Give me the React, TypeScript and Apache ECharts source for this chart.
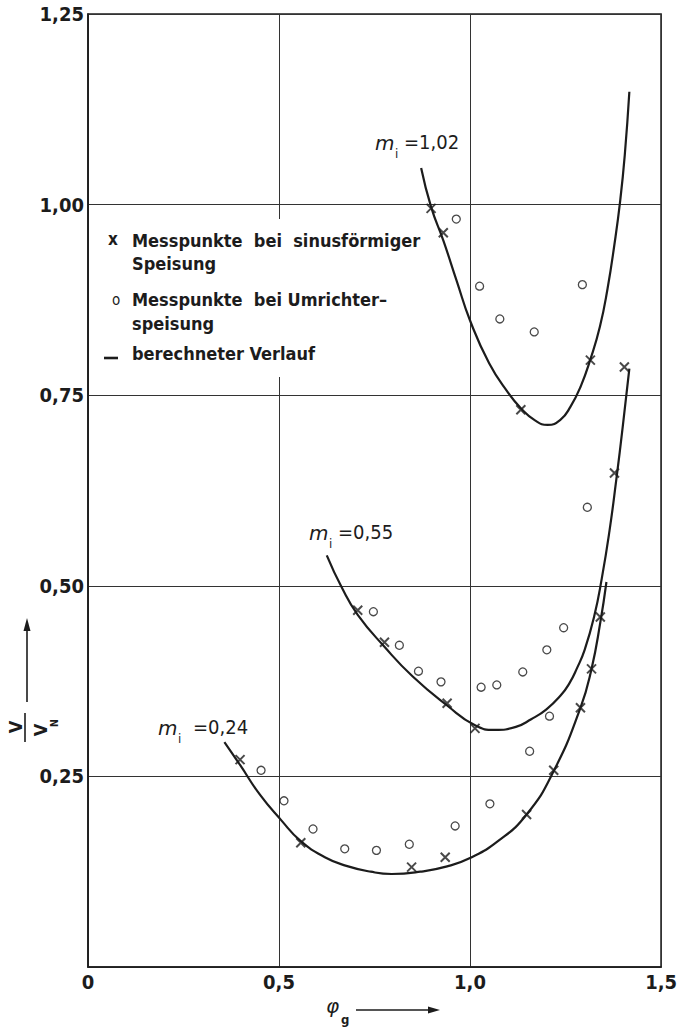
import React, { useEffect, useRef } from 'react';
import * as echarts from 'echarts';

const FONT = '"DejaVu Sans Condensed", "DejaVu Sans", sans-serif';
const INK = '#1c1c1c';

const xTicks = [0, 0.5, 1.0, 1.5];
const xTickLabels = ['0', '0,5', '1,0', '1,5'];
const yTicks = [0, 0.25, 0.5, 0.75, 1.0, 1.25];
const yTickLabels = ['', '0,25', '0,50', '0,75', '1,00', '1,25'];

// calculated curves (berechneter Verlauf)
const curve102 = [
  [0.872, 1.048], [0.898, 0.997], [0.93, 0.953], [0.965, 0.9], [1.0, 0.848],
  [1.05, 0.792], [1.1, 0.753], [1.133, 0.733], [1.17, 0.717], [1.203, 0.711],
  [1.237, 0.718], [1.263, 0.735], [1.29, 0.762], [1.315, 0.797], [1.34, 0.84],
  [1.36, 0.89], [1.378, 0.948], [1.393, 1.005], [1.405, 1.065], [1.417, 1.148],
];
const curve055 = [
  [0.625, 0.54], [0.665, 0.497], [0.706, 0.462], [0.776, 0.42], [0.85, 0.381],
  [0.94, 0.343], [1.013, 0.317], [1.065, 0.311], [1.12, 0.315], [1.16, 0.325],
  [1.2, 0.338], [1.237, 0.356], [1.26, 0.372], [1.28, 0.392], [1.3, 0.416],
  [1.325, 0.46], [1.345, 0.51], [1.365, 0.572], [1.383, 0.64], [1.4, 0.71], [1.417, 0.785],
];
const curve024 = [
  [0.357, 0.295], [0.398, 0.265], [0.45, 0.226], [0.505, 0.193], [0.557, 0.165],
  [0.62, 0.144], [0.674, 0.133], [0.74, 0.125], [0.795, 0.122], [0.87, 0.125],
  [0.94, 0.132], [1.0, 0.143], [1.073, 0.165], [1.148, 0.2], [1.219, 0.257],
  [1.289, 0.34], [1.318, 0.391], [1.341, 0.452], [1.357, 0.505],
];

// Messpunkte bei sinusförmiger Speisung (x)
const cross102 = [[0.898, 0.995], [0.93, 0.963], [1.133, 0.731], [1.315, 0.796]];
const cross055 = [[0.706, 0.468], [0.776, 0.426], [0.94, 0.346], [1.013, 0.313], [1.378, 0.648], [1.404, 0.787]];
const cross024 = [[0.398, 0.272], [0.557, 0.163], [0.847, 0.131], [0.935, 0.144], [1.148, 0.2], [1.219, 0.258], [1.289, 0.34], [1.318, 0.391], [1.341, 0.459]];

// Messpunkte bei Umrichterspeisung (o)
const circ102 = [[0.964, 0.981], [1.025, 0.893], [1.078, 0.85], [1.168, 0.833], [1.294, 0.895]];
const circ055 = [[0.747, 0.466], [0.815, 0.422], [0.865, 0.388], [0.924, 0.374], [1.029, 0.367], [1.07, 0.37], [1.138, 0.387], [1.201, 0.416], [1.245, 0.445], [1.307, 0.603]];
const circ024 = [[0.453, 0.258], [0.513, 0.218], [0.589, 0.181], [0.672, 0.155], [0.755, 0.153], [0.841, 0.161], [0.961, 0.185], [1.052, 0.214], [1.156, 0.283], [1.208, 0.329]];

const lineSeries = (data: number[][]) => ({
  type: 'line',
  data,
  smooth: 0.5,
  showSymbol: false,
  lineStyle: { color: INK, width: 2.2 },
  z: 3,
});
const crossSeries = (data: number[][]) => ({
  type: 'scatter',
  data,
  symbol: 'path://M0,0L10,10M10,0L0,10',
  symbolSize: 9,
  itemStyle: { color: 'none', borderColor: INK, borderWidth: 2 },
  z: 4,
});
const circSeries = (data: number[][]) => ({
  type: 'scatter',
  data,
  symbol: 'circle',
  symbolSize: 8,
  itemStyle: { color: '#fff', borderColor: INK, borderWidth: 1.3 },
  z: 4,
});

const txt = (text: string, x: number, y: number, size: number, extra: any = {}) => ({
  type: 'text',
  x,
  y,
  z: 5,
  style: {
    text,
    fill: INK,
    fontSize: size,
    fontFamily: FONT,
    fontWeight: 'bold',
    align: 'left',
    verticalAlign: 'middle',
    ...extra,
  },
});
const ital = { fontStyle: 'italic', fontWeight: 'normal', fontFamily: '"DejaVu Sans", sans-serif' };

const labelFor = (ticks: number[], labels: string[]) => (v: number) => {
  const i = ticks.findIndex((t) => Math.abs(t - v) < 1e-6);
  return i >= 0 ? labels[i] : '';
};

export default function App() {
  const ref = useRef<HTMLDivElement>(null);
  useEffect(() => {
    document.body.style.margin = '0';
    const chart = echarts.init(ref.current!, null, { renderer: 'svg' });
    const option: any = {
      animation: false,
      backgroundColor: '#fff',
      grid: { left: 88, right: 16, top: 14, bottom: 63, show: true, borderColor: INK, borderWidth: 1.6 },
      xAxis: {
        type: 'value',
        min: 0,
        max: 1.5,
        interval: 0.5,
        axisLine: { show: true, lineStyle: { color: INK, width: 1.6 } },
        axisTick: { show: false },
        splitLine: { show: true, lineStyle: { color: '#333', width: 1 } },
        axisLabel: {
          formatter: labelFor(xTicks, xTickLabels),
          color: INK,
          fontSize: 20,
          fontFamily: FONT,
          fontWeight: 'bold',
          margin: 5,
          showMaxLabel: true,
        },
      },
      yAxis: {
        type: 'value',
        min: 0,
        max: 1.25,
        interval: 0.25,
        axisLine: { show: true, lineStyle: { color: INK, width: 1.6 } },
        axisTick: { show: false },
        splitLine: { show: true, lineStyle: { color: '#333', width: 1 } },
        axisLabel: {
          formatter: labelFor(yTicks, yTickLabels),
          color: INK,
          fontSize: 20,
          fontFamily: FONT,
          fontWeight: 'bold',
          margin: 4,
          showMaxLabel: true,
        },
      },
      graphic: [
        { type: 'rect', z: 1, shape: { x: 95, y: 219, width: 322, height: 158 }, style: { fill: '#fff' } },
        txt('x', 108, 239, 17),
        txt('Messpunkte  bei  sinusförmiger', 132, 240, 18),
        txt('Speisung', 132, 263, 18),
        txt('o', 112, 300, 15, { fontWeight: 'normal' }),
        txt('Messpunkte  bei Umrichter–', 132, 299, 18),
        txt('speisung', 132, 323, 18),
        { type: 'line', z: 5, shape: { x1: 104, y1: 358, x2: 118, y2: 358 }, style: { stroke: INK, lineWidth: 2.6 } },
        txt('berechneter Verlauf', 132, 353, 18),
        // curve labels
        txt('m', 375, 143, 20, ital),
        txt('i', 395, 153, 13, { fontWeight: 'normal' }),
        txt('=1,02', 404, 142, 20, { fontWeight: 'normal' }),
        txt('m', 309, 533, 20, ital),
        txt('i', 329, 543, 13, { fontWeight: 'normal' }),
        txt('=0,55', 338, 532, 20, { fontWeight: 'normal' }),
        txt('m', 158, 728, 20, ital),
        txt('i', 178, 738, 13, { fontWeight: 'normal' }),
        txt('=0,24', 193, 727, 20, { fontWeight: 'normal' }),
        // y axis title V/V_N, rotated
        { ...txt('V', 15, 727, 18, { align: 'center' }), rotation: Math.PI / 2 },
        { type: 'line', z: 5, shape: { x1: 25, y1: 713, x2: 25, y2: 742 }, style: { stroke: INK, lineWidth: 1.6 } },
        { ...txt('V', 40, 730, 18, { align: 'center' }), rotation: Math.PI / 2 },
        { ...txt('N', 54, 723, 11, { align: 'center' }), rotation: Math.PI / 2 },
        { type: 'line', z: 5, shape: { x1: 27, y1: 702, x2: 27, y2: 628 }, style: { stroke: INK, lineWidth: 1.6 } },
        { type: 'polygon', z: 5, shape: { points: [[27, 618], [23.5, 631], [30.5, 631]] }, style: { fill: INK } },
        // x axis title phi_g
        txt('φ', 326, 1006, 20, ital),
        txt('g', 341, 1019, 13),
        { type: 'line', z: 5, shape: { x1: 356, y1: 1010, x2: 430, y2: 1010 }, style: { stroke: INK, lineWidth: 1.6 } },
        { type: 'polygon', z: 5, shape: { points: [[440, 1010], [428, 1006.5], [428, 1013.5]] }, style: { fill: INK } },
      ],
      series: [
        lineSeries(curve102),
        lineSeries(curve055),
        lineSeries(curve024),
        crossSeries(cross102),
        crossSeries(cross055),
        crossSeries(cross024),
        circSeries(circ102),
        circSeries(circ055),
        circSeries(circ024),
      ],
    };
    chart.setOption(option);
    return () => chart.dispose();
  }, []);
  return <div ref={ref} style={{ width: 680, height: 1030 }} />;
}
